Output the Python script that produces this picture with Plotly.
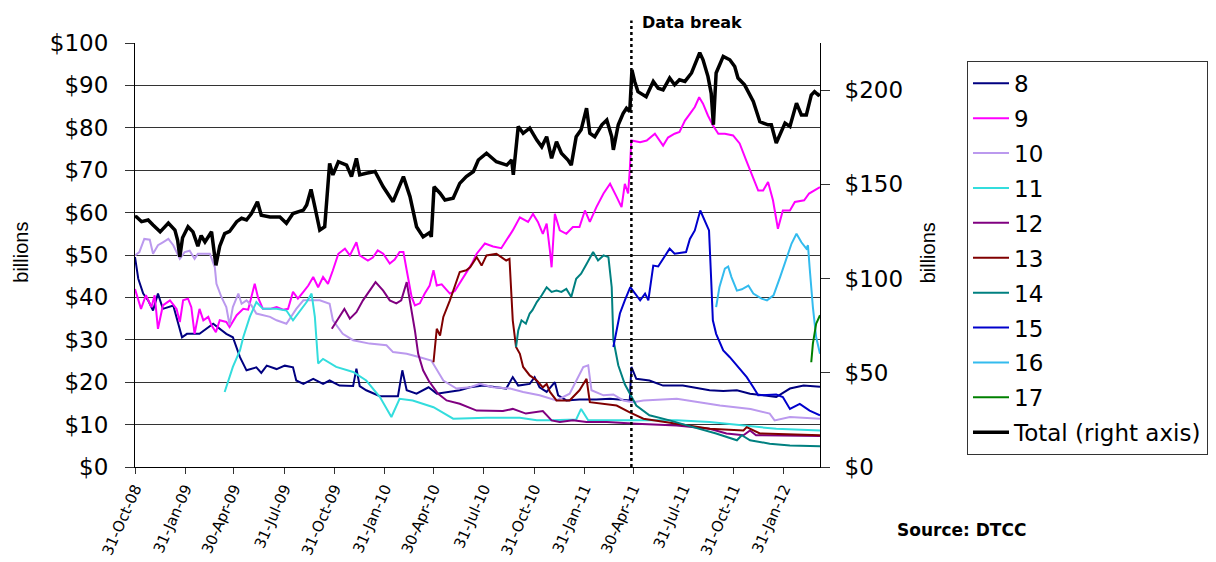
import plotly.graph_objects as go

# ---------------- data ----------------
S8_DATES = ['2008-10-31','2008-11-06','2008-11-15','2008-11-24','2008-12-03','2008-12-12','2008-12-21','2009-01-09',
            '2009-01-25','2009-02-03','2009-02-26','2009-03-23','2009-04-16','2009-04-28','2009-05-11','2009-05-23',
            '2009-06-10','2009-06-19','2009-06-29','2009-07-17','2009-08-01','2009-08-16','2009-08-22','2009-09-04',
            '2009-09-22','2009-10-10','2009-10-22','2009-11-09','2009-12-04','2009-12-10','2009-12-16','2009-12-28',
            '2010-01-22','2010-02-24','2010-03-04','2010-03-12','2010-03-30','2010-04-21','2010-05-06','2010-05-30',
            '2010-06-17','2010-07-06','2010-07-30','2010-08-23','2010-09-10','2010-09-22','2010-10-02','2010-10-23',
            '2010-11-01','2010-11-10','2010-11-23','2010-12-08','2010-12-14','2010-12-29','2011-01-22','2011-02-22',
            '2011-03-19','2011-04-24','2011-04-27','2011-05-06','2011-05-30','2011-06-24','2011-07-30','2011-09-17',
            '2011-10-12','2011-11-06','2011-11-30','2011-12-24','2012-01-17','2012-02-11','2012-03-07','2012-04-06']
S8_VALUES = [49.5,44.4,40.9,39.3,36.9,40.9,37.3,38.1,
             30.6,31.4,31.4,33.8,31.4,30.6,25.9,22.8,
             23.5,22.2,23.9,23.1,23.9,23.5,20.4,19.6,
             20.8,19.6,20.4,19.2,19.1,23.2,19.1,18.1,
             16.7,16.7,22.8,18.1,17.3,18.8,17.3,17.7,
             18.1,18.8,19.2,18.8,18.5,21.2,19.2,19.6,
             21.2,18.8,17.7,20.0,16.9,15.7,15.9,15.9,
             16.1,15.7,23.6,20.8,20.4,19.2,19.2,18.1,
             17.9,18.1,17.3,16.9,16.5,18.5,19.2,18.9]

S9_DATES = ['2008-10-31','2008-11-11','2008-11-20','2008-11-30','2008-12-06','2008-12-12','2008-12-21','2009-01-03',
            '2009-01-15','2009-01-21','2009-01-27','2009-02-05','2009-02-11','2009-02-17','2009-02-26','2009-03-05',
            '2009-03-14','2009-03-20','2009-03-28','2009-04-04','2009-04-16','2009-04-22','2009-05-05','2009-05-17',
            '2009-05-26','2009-06-01','2009-06-07','2009-06-13','2009-06-22','2009-07-05','2009-07-17','2009-07-29',
            '2009-08-07','2009-08-16','2009-08-25','2009-09-04','2009-09-13','2009-09-22','2009-10-01','2009-10-10',
            '2009-10-19','2009-10-28','2009-11-07','2009-11-19','2009-11-28','2009-12-10','2009-12-16','2009-12-31',
            '2010-01-09','2010-01-18','2010-01-28','2010-02-09','2010-02-18','2010-02-27','2010-03-06','2010-03-12',
            '2010-03-21','2010-03-27','2010-04-05','2010-04-14','2010-04-23','2010-04-30','2010-05-06','2010-05-15',
            '2010-05-30','2010-06-08','2010-06-20','2010-06-29','2010-07-09','2010-07-18','2010-08-02','2010-08-17',
            '2010-09-01','2010-09-10','2010-09-22','2010-10-05','2010-10-20','2010-10-29','2010-11-07','2010-11-16',
            '2010-11-23','2010-11-29','2010-12-02','2010-12-08','2010-12-17','2010-12-29','2011-01-10','2011-01-22',
            '2011-02-01','2011-02-10','2011-02-22','2011-03-07','2011-03-19','2011-03-31','2011-04-09','2011-04-15',
            '2011-04-21','2011-04-24','2011-04-27','2011-05-13','2011-05-25','2011-06-09','2011-06-24','2011-07-03',
            '2011-07-15','2011-07-24','2011-08-03','2011-08-12','2011-08-21','2011-08-29','2011-09-05','2011-09-14',
            '2011-09-23','2011-10-03','2011-10-15','2011-10-30','2011-11-11','2011-11-23','2011-12-03','2011-12-15',
            '2011-12-24','2012-01-02','2012-01-11','2012-01-20','2012-01-29','2012-02-11','2012-02-20','2012-03-08',
            '2012-03-17','2012-03-26','2012-04-06']
S9_VALUES = [42.0,37.3,40.5,37.7,40.5,32.6,38.1,39.3,
             37.3,34.2,39.3,39.7,37.7,31.4,37.3,34.6,
             35.4,33.4,31.8,34.6,34.2,33.0,35.8,37.3,
             37.1,40.1,43.2,40.0,37.3,37.3,37.7,37.1,
             37.3,41.3,39.7,41.3,42.8,44.8,42.4,44.8,
             43.2,46.4,50.3,51.5,49.9,53.0,49.9,48.7,
             49.4,51.1,50.3,48.0,48.9,50.7,50.7,46.4,
             40.1,38.1,38.6,40.9,42.8,46.4,42.8,43.1,
             40.9,41.5,44.0,46.0,47.9,50.3,52.7,52.0,
             51.6,53.4,55.8,58.9,57.8,59.7,57.8,55.0,
             57.4,51.0,47.1,59.7,55.8,55.0,56.6,56.6,
             60.5,57.8,61.3,64.5,66.8,63.7,61.3,66.8,
             64.5,70.0,77.0,76.6,77.0,78.6,75.8,77.7,
             78.6,79.0,81.7,83.3,84.9,87.2,85.7,82.9,
             80.6,78.6,78.6,78.2,76.3,72.3,69.2,65.2,
             65.2,67.2,62.9,56.2,60.5,60.5,62.5,62.9,
             64.5,65.2,66.0]

S10_DATES = ['2008-10-31','2008-11-08','2008-11-17','2008-11-27','2008-12-03','2008-12-12','2008-12-21','2008-12-31',
             '2009-01-09','2009-01-21','2009-01-30','2009-02-08','2009-02-17','2009-02-23','2009-03-17','2009-03-26',
             '2009-03-29','2009-04-07','2009-04-16','2009-04-22','2009-04-28','2009-05-08','2009-05-14','2009-05-23',
             '2009-06-01','2009-06-10','2009-07-05','2009-07-17','2009-08-04','2009-08-22','2009-09-04','2009-10-04',
             '2009-10-22','2009-10-28','2009-11-15','2009-12-04','2010-01-03','2010-02-03','2010-02-15','2010-03-12',
             '2010-04-05','2010-04-26','2010-05-18','2010-06-11','2010-07-06','2010-07-24','2010-08-17','2010-09-17',
             '2010-10-11','2010-11-10','2010-12-11','2011-01-04','2011-01-29','2011-02-07','2011-02-13','2011-03-07',
             '2011-03-25','2011-04-12','2011-04-30','2011-05-19','2011-07-19','2011-08-25','2011-10-06','2011-12-01',
             '2012-01-05','2012-01-14','2012-02-11','2012-04-06']
S10_VALUES = [49.9,50.7,53.8,53.6,50.3,52.3,53.0,53.8,
              52.3,49.1,50.7,51.0,49.1,50.3,50.3,47.1,
              43.2,40.1,37.7,33.5,37.7,40.9,38.5,39.3,
              38.1,36.2,35.4,34.6,33.8,37.3,39.3,39.3,
              38.5,34.6,31.4,29.9,29.1,28.7,27.1,26.7,
              25.9,25.1,20.4,18.5,18.8,19.6,18.8,18.5,
              17.7,16.9,15.7,17.3,23.6,24.0,18.1,16.9,
              17.1,15.7,15.3,15.7,16.1,15.3,14.5,13.7,
              12.6,11.0,11.8,11.4]

S11_DATES = ['2009-04-13','2009-04-28','2009-05-11','2009-05-17','2009-05-29','2009-06-10','2009-06-22','2009-07-17',
             '2009-08-04','2009-08-16','2009-09-10','2009-09-19','2009-09-25','2009-10-01','2009-10-10','2009-11-03',
             '2009-12-04','2009-12-28','2010-01-22','2010-02-12','2010-02-27','2010-03-23','2010-04-30','2010-06-05',
             '2010-08-05','2010-10-05','2010-11-05','2010-12-02','2011-01-16','2011-01-25','2011-02-07','2011-03-19',
             '2011-05-19','2011-07-19','2011-09-17','2011-11-18','2012-01-17','2012-04-06']
S11_VALUES = [17.7,23.6,27.5,30.6,35.4,38.9,37.3,37.3,
              36.9,34.6,38.9,40.9,35.4,24.4,25.5,23.6,
              22.4,20.4,16.5,11.8,16.1,15.7,14.1,11.4,
              11.6,11.6,11.0,11.0,11.2,13.7,11.0,11.0,
              11.0,11.0,10.6,9.8,9.0,8.6]

S12_DATES = ['2009-10-26','2009-11-09','2009-11-18','2009-11-28','2009-12-10','2009-12-22','2010-01-03','2010-01-14',
             '2010-01-28','2010-02-09','2010-02-21','2010-03-02','2010-03-12','2010-03-18','2010-03-27','2010-04-02',
             '2010-04-11','2010-04-21','2010-04-30','2010-05-08','2010-05-24','2010-06-17','2010-07-18','2010-08-05',
             '2010-09-04','2010-09-22','2010-10-16','2010-11-16','2010-12-02','2010-12-17','2011-01-10','2011-02-04',
             '2011-03-13','2011-05-06','2011-07-19','2011-09-17','2011-10-18','2011-11-18','2011-11-30','2011-12-11',
             '2012-04-06']
S12_VALUES = [32.6,35.4,37.3,35.0,36.5,39.3,41.6,43.6,
              41.6,39.3,38.6,39.3,43.6,39.3,32.2,26.7,
              22.8,20.4,18.8,17.3,15.7,14.9,13.3,13.2,
              13.2,13.7,12.6,13.2,11.0,10.6,11.0,10.6,
              10.6,10.2,9.8,9.0,7.9,7.5,8.6,7.5,
              7.3]

S13_DATES = ['2010-04-30','2010-05-03','2010-05-06','2010-05-12','2010-05-18','2010-05-30','2010-06-11','2010-06-17',
             '2010-06-29','2010-07-06','2010-07-18','2010-07-27','2010-08-05','2010-08-23','2010-09-01','2010-09-10',
             '2010-09-16','2010-09-19','2010-09-22','2010-09-28','2010-10-05','2010-10-11','2010-10-23','2010-11-05',
             '2010-11-16','2010-11-23','2010-11-29','2010-12-11','2011-01-04','2011-01-22','2011-02-04','2011-02-10',
             '2011-03-07','2011-03-31','2011-04-24','2011-05-19','2011-07-19','2011-09-17','2011-11-18','2011-11-24',
             '2011-12-18','2012-04-06']
S13_VALUES = [24.7,29.1,32.6,31.0,35.4,39.3,44.0,46.0,
              46.4,47.1,49.5,47.5,49.9,50.3,49.5,48.7,
              49.1,42.4,34.6,28.3,26.7,23.6,21.6,20.4,
              18.8,19.6,17.7,15.7,15.7,18.1,20.8,15.3,
              14.9,14.5,12.9,11.4,10.2,9.0,8.6,9.4,
              7.9,7.5]

S14_DATES = ['2010-09-28','2010-10-02','2010-10-08','2010-10-16','2010-10-23','2010-10-28','2010-11-05','2010-11-14',
             '2010-11-23','2010-12-02','2010-12-11','2010-12-20','2010-12-29','2011-01-07','2011-01-16','2011-01-25',
             '2011-02-04','2011-02-16','2011-02-25','2011-03-07','2011-03-16','2011-03-22','2011-03-25','2011-04-03',
             '2011-04-15','2011-04-24','2011-05-06','2011-05-30','2011-07-06','2011-08-18','2011-09-29','2011-11-06',
             '2011-11-15','2011-11-30','2012-01-05','2012-02-11','2012-04-06']
S14_VALUES = [28.3,32.2,34.6,33.8,36.2,37.0,38.9,40.5,
              42.4,41.3,41.6,41.3,42.0,40.1,44.4,45.6,
              47.9,50.7,48.7,49.9,49.5,42.4,30.0,24.0,
              19.5,17.3,14.5,12.2,11.0,9.4,7.9,6.3,
              7.5,6.3,5.5,5.1,4.9]

S15_DATES = ['2011-03-25','2011-04-06','2011-04-15','2011-04-25','2011-05-13','2011-05-22','2011-05-28','2011-06-06',
             '2011-06-15','2011-06-24','2011-07-06','2011-07-15','2011-08-05','2011-08-12','2011-08-21','2011-08-31',
             '2011-09-08','2011-09-16','2011-09-20','2011-09-23','2011-09-29','2011-10-12','2011-10-24','2011-11-06',
             '2011-11-24','2011-12-06','2011-12-15','2012-01-17','2012-01-29','2012-02-11','2012-02-29','2012-03-18',
             '2012-04-06']
S15_VALUES = [28.3,36.2,39.3,42.4,39.3,40.9,39.3,47.5,
              47.3,49.1,51.5,50.3,50.7,53.8,55.8,60.5,
              58.2,55.8,44.0,34.6,31.4,27.5,25.9,24.0,
              21.2,18.8,16.9,17.1,16.5,13.7,14.9,13.3,
              12.2]

S16_DATES = ['2011-09-29','2011-10-05','2011-10-15','2011-10-21','2011-10-27','2011-11-06','2011-11-15','2011-11-27',
             '2011-12-06','2011-12-21','2011-12-31','2012-01-12','2012-01-24','2012-02-05','2012-02-14','2012-02-23',
             '2012-03-03','2012-03-12','2012-03-15','2012-03-18','2012-03-24','2012-03-30','2012-04-06']
S16_VALUES = [37.7,42.4,46.8,47.3,44.8,41.6,41.9,42.8,
              40.9,39.7,39.3,40.5,44.8,49.5,52.7,55.0,
              53.0,51.5,52.3,47.1,37.7,30.6,26.7]

S17_DATES = ['2012-03-21','2012-03-24','2012-03-30','2012-04-06']
S17_VALUES = [24.7,29.1,33.8,35.8]

TOTAL_DATES = ['2008-10-31','2008-11-03','2008-11-12','2008-11-24','2008-12-03','2008-12-16','2008-12-31','2009-01-12',
               '2009-01-17','2009-01-21','2009-01-26','2009-02-05','2009-02-14','2009-02-23','2009-03-01','2009-03-08',
               '2009-03-20','2009-03-28','2009-04-04','2009-04-13','2009-04-22','2009-05-05','2009-05-14','2009-05-23',
               '2009-06-01','2009-06-12','2009-06-19','2009-07-05','2009-07-23','2009-08-04','2009-08-16','2009-09-04',
               '2009-09-10','2009-09-18','2009-09-25','2009-10-04','2009-10-13','2009-10-22','2009-10-28','2009-11-07',
               '2009-11-22','2009-12-01','2009-12-10','2009-12-16','2009-12-28','2010-01-13','2010-01-28','2010-02-15',
               '2010-03-06','2010-03-18','2010-03-30','2010-04-11','2010-04-23','2010-04-26','2010-05-01','2010-05-12',
               '2010-05-21','2010-06-05','2010-06-17','2010-06-29','2010-07-12','2010-07-21','2010-08-05','2010-08-23',
               '2010-09-11','2010-09-20','2010-09-23','2010-10-02','2010-10-11','2010-10-23','2010-11-05','2010-11-14',
               '2010-11-23','2010-12-02','2010-12-11','2010-12-20','2011-01-01','2011-01-07','2011-01-16','2011-01-25',
               '2011-02-04','2011-02-10','2011-02-19','2011-03-04','2011-03-13','2011-03-22','2011-03-25','2011-04-03',
               '2011-04-12','2011-04-18','2011-04-24','2011-04-28','2011-05-03','2011-05-09','2011-05-24','2011-06-06',
               '2011-06-15','2011-06-24','2011-07-06','2011-07-15','2011-07-24','2011-08-03','2011-08-15','2011-08-30',
               '2011-09-05','2011-09-14','2011-09-20','2011-09-24','2011-09-29','2011-10-12','2011-10-24','2011-11-02',
               '2011-11-08','2011-11-20','2011-12-06','2011-12-18','2012-01-02','2012-01-08','2012-01-17','2012-02-02',
               '2012-02-11','2012-02-23','2012-03-03','2012-03-12','2012-03-21','2012-03-27','2012-04-03','2012-04-06']
TOTAL_VALUES = [133.0,132.7,130.2,131.1,128.4,124.8,129.5,125.7,
                120.3,111.5,121.7,127.5,124.8,117.2,122.8,119.4,
                124.8,107.0,117.2,123.9,125.0,130.2,132.0,131.1,
                134.5,140.8,133.6,132.7,132.7,129.3,134.5,136.3,
                139.0,147.3,138.1,125.7,127.5,161.1,155.0,162.0,
                160.2,154.1,163.8,155.0,155.9,156.8,148.7,140.8,
                154.1,143.5,127.5,122.1,124.4,122.1,148.7,145.3,
                141.7,142.6,150.5,154.1,156.8,162.9,166.5,162.0,
                160.2,162.9,155.0,180.7,177.1,179.8,173.5,169.9,
                175.3,163.8,172.6,166.5,162.9,160.2,175.3,178.9,
                190.4,177.1,175.3,181.6,184.1,175.3,168.3,181.6,
                187.7,190.4,188.6,210.7,204.6,199.2,196.5,204.6,
                201.0,200.1,206.4,202.8,205.5,204.6,209.1,219.9,
                216.1,207.3,198.3,181.6,209.1,217.9,216.1,212.5,
                206.4,202.8,194.0,183.2,181.6,181.6,171.9,182.5,
                180.7,193.1,186.8,186.8,197.4,199.2,197.4,198.0]

SERIES_NAMES = ['8', '9', '10', '11', '12', '13', '14', '15', '16', '17']
SERIES_COLORS = ['#000080', '#FF00FF', '#BB99EE', '#33DDDD', '#800080',
                 '#800000', '#008080', '#0000CC', '#33BBEE', '#008000']
TOTAL_NAME = 'Total (right axis)'

TICK_DATES = ['2008-10-31', '2009-01-31', '2009-04-30', '2009-07-31', '2009-10-31', '2010-01-31', '2010-04-30',
              '2010-07-31', '2010-10-31', '2011-01-31', '2011-04-30', '2011-07-31', '2011-10-31', '2012-01-31']
TICK_LABELS = ['31-Oct-08', '31-Jan-09', '30-Apr-09', '31-Jul-09', '31-Oct-09', '31-Jan-10', '30-Apr-10',
               '31-Jul-10', '31-Oct-10', '31-Jan-11', '30-Apr-11', '31-Jul-11', '31-Oct-11', '31-Jan-12']
X_RANGE = ['2008-10-31', '2012-04-06']
DATA_BREAK_DATE = '2011-04-27'
LEFT_RANGE = [0, 100]
LEFT_TICKS = [0, 10, 20, 30, 40, 50, 60, 70, 80, 90, 100]
LEFT_TICK_LABELS = ['$0', '$10', '$20', '$30', '$40', '$50', '$60', '$70', '$80', '$90', '$100']
RIGHT_RANGE = [0, 225]
RIGHT_TICKS = [0, 50, 100, 150, 200]
RIGHT_TICK_LABELS = ['$0', '$50', '$100', '$150', '$200']

SERIES_DATES = [S8_DATES, S9_DATES, S10_DATES, S11_DATES, S12_DATES,
                S13_DATES, S14_DATES, S15_DATES, S16_DATES, S17_DATES]
SERIES_VALUES = [S8_VALUES, S9_VALUES, S10_VALUES, S11_VALUES, S12_VALUES,
                 S13_VALUES, S14_VALUES, S15_VALUES, S16_VALUES, S17_VALUES]

# ---------------- figure ----------------
FONT = 'DejaVu Sans, Verdana, sans-serif'
ARIAL = 'Liberation Sans, Arial, sans-serif'

fig = go.Figure()
for name, color, xs, ys in zip(SERIES_NAMES, SERIES_COLORS, SERIES_DATES, SERIES_VALUES):
    fig.add_trace(go.Scatter(x=xs, y=ys, name=name, mode='lines', legendgroup=name,
                             line=dict(color=color, width=2), yaxis='y'))
fig.add_trace(go.Scatter(x=TOTAL_DATES, y=TOTAL_VALUES, name=TOTAL_NAME, mode='lines',
                         legendgroup=TOTAL_NAME, line=dict(color='#000000', width=3.5), yaxis='y2'))

# page body has an 8px margin, so the figure is 8px smaller than the window
fig.update_layout(
    width=1208, height=554,
    margin=dict(l=127, r=396, t=35, b=95, autoexpand=False),
    paper_bgcolor='white', plot_bgcolor='white',
    font=dict(family=FONT, color='black'),
    showlegend=True,
    legend=dict(x=1.2146, y=0.958, xanchor='left', yanchor='top', xref='paper', yref='paper',
                bordercolor='#333333', borderwidth=1, bgcolor='white',
                font=dict(family=FONT, size=23, color='black'),
                tracegroupgap=2, itemwidth=36),
    xaxis=dict(type='date', range=X_RANGE, tickvals=TICK_DATES, ticktext=TICK_LABELS,
               tickangle=-66, tickfont=dict(family=FONT, size=15, color='black'),
               ticks='outside', ticklen=6, tickcolor='#333333',
               showline=True, linecolor='black', linewidth=1, showgrid=False, zeroline=False),
    yaxis=dict(range=LEFT_RANGE, tickvals=LEFT_TICKS, ticktext=LEFT_TICK_LABELS,
               tickfont=dict(family=FONT, size=23, color='black'),
               ticks='outside', ticklen=9, tickcolor='#333333', ticklabelstandoff=12,
               showline=True, linecolor='black', linewidth=1,
               showgrid=True, gridcolor='#333333', gridwidth=1, zeroline=False),
    yaxis2=dict(range=RIGHT_RANGE, tickvals=RIGHT_TICKS, ticktext=RIGHT_TICK_LABELS,
                overlaying='y', side='right',
                tickfont=dict(family=FONT, size=23, color='black'),
                ticks='outside', ticklen=9, tickcolor='#333333', ticklabelstandoff=10,
                showline=True, linecolor='black', linewidth=1, showgrid=False, zeroline=False),
    yaxis3=dict(range=RIGHT_RANGE, tickvals=RIGHT_TICKS, overlaying='y', side='right',
                ticks='inside', ticklen=9, tickcolor='#333333', showticklabels=False,
                showline=False, showgrid=False, zeroline=False),
)

fig.add_shape(type='line', xref='x', yref='paper', x0=DATA_BREAK_DATE, x1=DATA_BREAK_DATE,
              y0=0, y1=1.053, line=dict(color='black', width=2.5, dash='dot'))

fig.add_annotation(text='<b>Data break</b>', xref='paper', yref='paper', x=0.737, y=1.0486,
                   xanchor='left', yanchor='middle', showarrow=False,
                   font=dict(family=FONT, size=16, color='black'))
fig.add_annotation(text='<b>Source: DTCC</b>', xref='paper', yref='paper', x=1.207, y=-0.1495,
                   xanchor='center', yanchor='middle', showarrow=False,
                   font=dict(family=FONT, size=17, color='black'))
fig.add_annotation(text='billions', xref='paper', yref='paper', x=-0.166, y=0.506, textangle=-90,
                   xanchor='center', yanchor='middle', showarrow=False,
                   font=dict(family=ARIAL, size=20, color='black'))
fig.add_annotation(text='billions', xref='paper', yref='paper', x=1.159, y=0.506, textangle=-90,
                   xanchor='center', yanchor='middle', showarrow=False,
                   font=dict(family=ARIAL, size=20, color='black'))

fig.write_html('out.html')
